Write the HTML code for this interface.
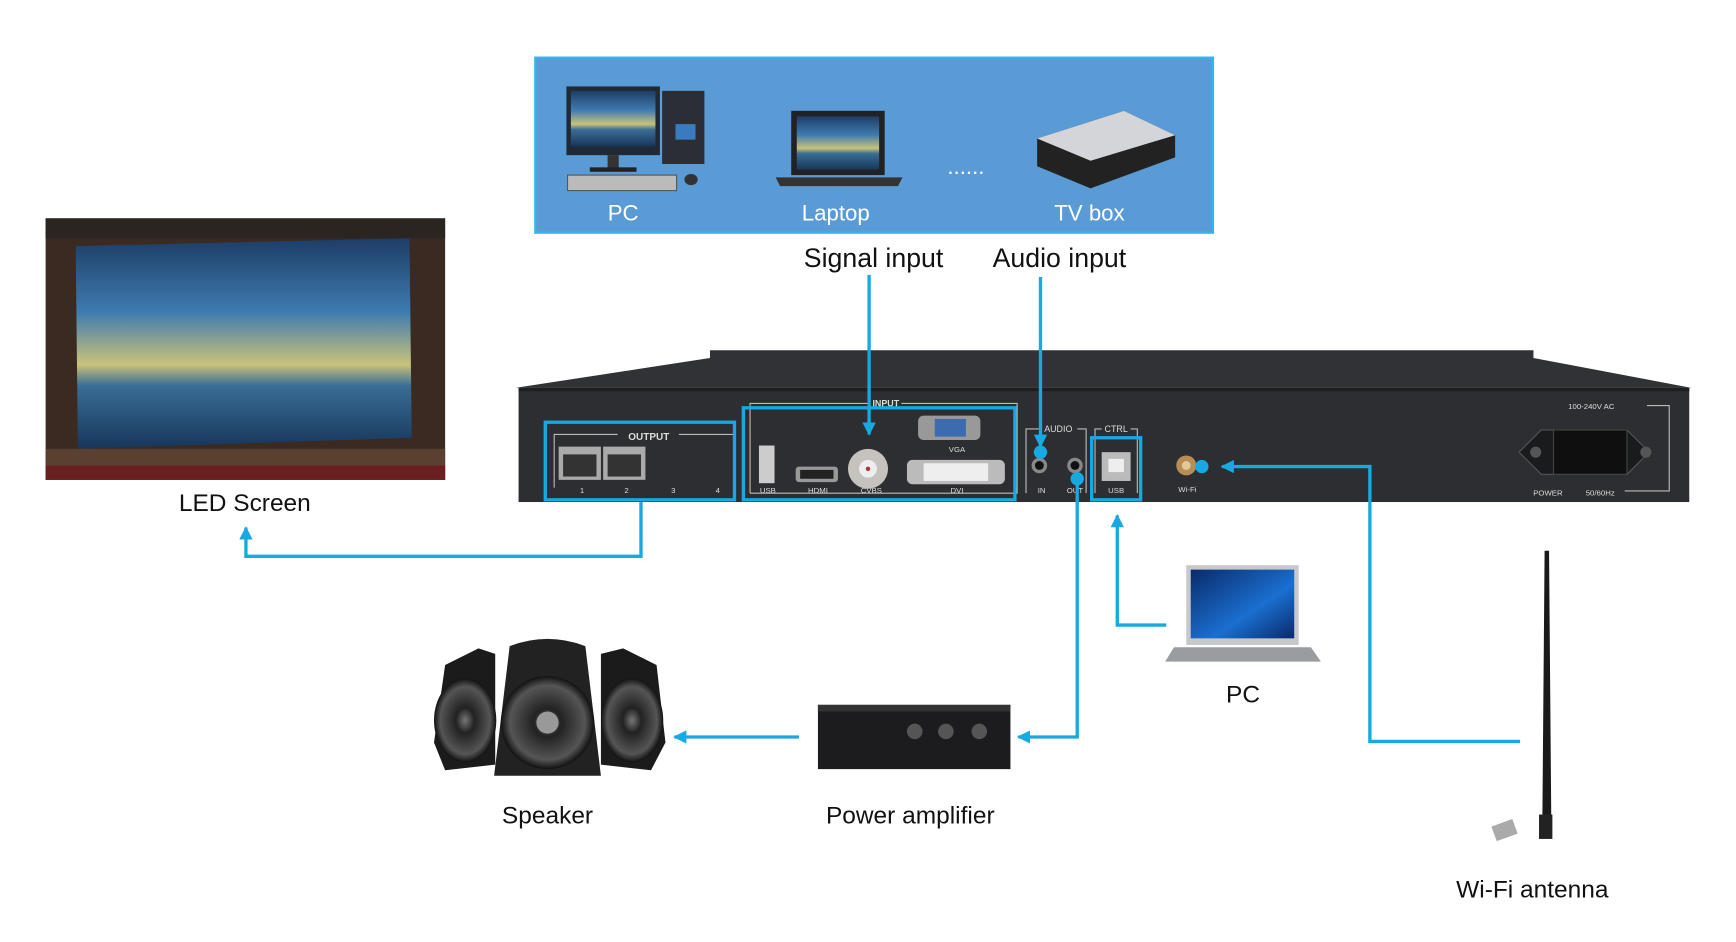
<!DOCTYPE html>
<html><head><meta charset="utf-8"><style>
html,body{margin:0;padding:0;background:#fff;}
svg{display:block;}
text{font-family:"Liberation Sans",sans-serif;}
</style></head><body>
<svg width="1736" height="942" viewBox="0 0 1560 850" preserveAspectRatio="none" xmlns="http://www.w3.org/2000/svg">
<defs>
<linearGradient id="sky" x1="0" y1="0" x2="0" y2="1">
<stop offset="0" stop-color="#1d3d66"/><stop offset="0.35" stop-color="#3f7bb0"/><stop offset="0.6" stop-color="#c9c27a"/><stop offset="0.7" stop-color="#3a6d95"/><stop offset="1" stop-color="#17365a"/></linearGradient>
<radialGradient id="spk" cx="0.5" cy="0.5" r="0.5"><stop offset="0" stop-color="#777"/><stop offset="0.3" stop-color="#222"/><stop offset="0.8" stop-color="#555"/><stop offset="1" stop-color="#111"/></radialGradient>
<linearGradient id="win" x1="0" y1="0" x2="1" y2="1"><stop offset="0" stop-color="#0a2a6a"/><stop offset="0.6" stop-color="#1a6fd0"/><stop offset="1" stop-color="#0a2a6a"/></linearGradient>
<marker id="ar" viewBox="0 0 10 10" refX="9" refY="5" markerWidth="4" markerHeight="4" orient="auto"><path d="M0,0 L10,5 L0,10 z" fill="#17a9e1"/></marker>
</defs>
<rect width="1560" height="850" fill="#fff"/>
<!-- top blue box -->
<rect x="481" y="52" width="609" height="158" fill="#5b9bd5" stroke="#35b6ea" stroke-width="2"/>
<!-- PC -->
<rect x="509" y="78" width="84" height="62" fill="#1f2a36"/><rect x="513" y="82" width="76" height="50" fill="url(#sky)"/>
<rect x="546" y="140" width="10" height="12" fill="#333"/><rect x="530" y="151" width="42" height="4" fill="#222"/>
<rect x="595" y="82" width="38" height="66" fill="#2b2f35"/><rect x="607" y="112" width="18" height="14" fill="#3a7bc0"/>
<rect x="510" y="158" width="98" height="14" fill="#bbb" stroke="#555"/><ellipse cx="621" cy="162" rx="6" ry="5" fill="#333"/>
<!-- Laptop -->
<rect x="711" y="100" width="84" height="58" fill="#222"/><rect x="716" y="105" width="74" height="48" fill="url(#sky)"/>
<path d="M697,160 L811,160 L807,168 L701,168 z" fill="#333"/>
<text x="868" y="157" font-size="20" fill="#fff" text-anchor="middle">......</text>
<!-- TV box -->
<path d="M932,125 L1010,100 L1056,122 L1056,142 L980,170 L932,150 z" fill="#222"/>
<path d="M932,125 L1010,100 L1056,122 L980,145 z" fill="#d3d5d8"/>
<text x="560" y="199" font-size="20" fill="#fff" text-anchor="middle">PC</text>
<text x="751" y="199" font-size="20" fill="#fff" text-anchor="middle">Laptop</text>
<text x="979" y="199" font-size="20" fill="#fff" text-anchor="middle">TV box</text>
<text x="785" y="241" font-size="24" fill="#111" text-anchor="middle">Signal input</text>
<text x="952" y="241" font-size="24" fill="#111" text-anchor="middle">Audio input</text>
<!-- LED screen photo -->
<rect x="41" y="197" width="359" height="236" fill="#3a2a22"/>
<rect x="41" y="197" width="359" height="18" fill="#2a2520"/>
<path d="M68,222 L368,215 L370,395 L70,405 z" fill="url(#sky)"/>
<rect x="41" y="405" width="359" height="28" fill="#5a4030"/>
<rect x="41" y="420" width="359" height="13" fill="#6b2020"/>
<text x="220" y="461" font-size="22" fill="#111" text-anchor="middle">LED Screen</text>
<!-- device -->
<path d="M638,316 L1378,316 L1378,323 L1520,350 L463,350 L638,323 z" fill="#303236"/>
<rect x="466" y="350" width="1052" height="103" fill="#2c2e31"/>
<rect x="466" y="350" width="1052" height="3" fill="#1e1f21"/>
<g fill="none" stroke="#bbb" stroke-width="1">
<path d="M498,440 L498,392 L555,392 M610,392 L660,392"/>
<path d="M674,445 L674,364 L780,364 M810,364 L914,364 L914,445 L674,445"/>
<path d="M922,445 L922,387 L935,387 M968,387 L976,387 L976,445 M984,445 L984,387 L990,387 M1016,387 L1022,387 L1022,445"/>
<path d="M1480,366 L1500,366 L1500,443 L1460,443"/>
</g>
<text x="583" y="397" font-size="9" fill="#ddd" text-anchor="middle" font-weight="bold">OUTPUT</text>
<text x="796" y="367" font-size="8" fill="#ddd" text-anchor="middle" font-weight="bold">INPUT</text>
<text x="951" y="390" font-size="8" fill="#ddd" text-anchor="middle">AUDIO</text>
<text x="1003" y="390" font-size="8" fill="#ddd" text-anchor="middle">CTRL</text>
<text x="1430" y="369" font-size="7" fill="#ddd" text-anchor="middle">100-240V AC</text>
<text x="1391" y="447" font-size="7" fill="#ddd" text-anchor="middle">POWER</text>
<text x="1438" y="447" font-size="7" fill="#ddd" text-anchor="middle">50/60Hz</text>
<text x="1067" y="444" font-size="7" fill="#ddd" text-anchor="middle">Wi-Fi</text>
<g font-size="7" fill="#ddd" text-anchor="middle"><text x="523" y="445">1</text><text x="563" y="445">2</text><text x="605" y="445">3</text><text x="645" y="445">4</text>
<text x="690" y="445">USB</text><text x="735" y="445">HDMI</text><text x="783" y="445">CVBS</text><text x="860" y="445">DVI</text><text x="860" y="408">VGA</text><text x="936" y="445">IN</text><text x="966" y="445">OUT</text><text x="1003" y="445">USB</text></g>
<rect x="502" y="403" width="38" height="30" fill="#aaa"/><rect x="506" y="410" width="30" height="20" fill="#333"/>
<rect x="542" y="403" width="38" height="30" fill="#aaa"/><rect x="546" y="410" width="30" height="20" fill="#333"/>
<rect x="682" y="402" width="14" height="34" fill="#ccc"/>
<rect x="715" y="421" width="38" height="14" rx="3" fill="#999"/><rect x="719" y="424" width="30" height="8" fill="#222"/>
<circle cx="780" cy="423" r="18" fill="#c6c2bd"/><circle cx="780" cy="423" r="8" fill="#eee"/><circle cx="780" cy="423" r="2" fill="#a33"/>
<rect x="825" y="375" width="56" height="22" rx="5" fill="#999"/><rect x="840" y="378" width="28" height="16" fill="#3c6bb0"/>
<rect x="815" y="415" width="88" height="22" rx="5" fill="#bbb"/><rect x="830" y="418" width="58" height="16" fill="#eee"/>
<circle cx="934" cy="420" r="7" fill="#888"/><circle cx="934" cy="420" r="4" fill="#111"/>
<circle cx="966" cy="420" r="7" fill="#888"/><circle cx="966" cy="420" r="4" fill="#111"/>
<rect x="990" y="408" width="26" height="26" fill="#bbb"/><rect x="996" y="414" width="14" height="12" fill="#eee"/>
<circle cx="1066" cy="420" r="9" fill="#b58d55"/><circle cx="1066" cy="420" r="4" fill="#e6c79a"/>
<path d="M1365,408 L1385,388 L1462,388 L1482,408 L1462,428 L1385,428 z" fill="#1a1b1d" stroke="#555"/>
<rect x="1396" y="388" width="66" height="40" fill="#0f0f10" stroke="#444"/>
<circle cx="1380" cy="408" r="5" fill="#555"/><circle cx="1479" cy="408" r="5" fill="#555"/>
<!-- highlight boxes -->
<g fill="none" stroke="#17a9e1" stroke-width="3">
<rect x="490" y="381" width="170" height="70"/>
<rect x="668" y="368" width="244" height="83"/>
<rect x="981" y="395" width="44" height="56"/>
</g>
<!-- connectors -->
<g fill="none" stroke="#17a9e1" stroke-width="3">
<path d="M781,248 L781,392" marker-end="url(#ar)"/>
<path d="M935,250 L935,403" marker-end="url(#ar)"/>
<path d="M576,453 L576,502 L221,502 L221,476" marker-end="url(#ar)"/>
<path d="M968,432 L968,665 L915,665" marker-end="url(#ar)"/>
<path d="M718,665 L606,665" marker-end="url(#ar)"/>
<path d="M1048,564 L1004,564 L1004,465" marker-end="url(#ar)"/>
<path d="M1366,669 L1231,669 L1231,421 L1098,421" marker-end="url(#ar)"/>
</g>
<circle cx="935" cy="408" r="6" fill="#17a9e1"/>
<circle cx="968" cy="432" r="6" fill="#17a9e1"/>
<circle cx="1080" cy="421" r="6" fill="#17a9e1"/>
<!-- speakers -->
<path d="M400,600 L430,585 L445,590 L445,690 L400,695 L390,670 z" fill="#1b1b1b"/>
<path d="M540,590 L560,585 L590,600 L598,670 L585,695 L540,690 z" fill="#1b1b1b"/>
<ellipse cx="418" cy="650" rx="28" ry="38" fill="url(#spk)"/>
<ellipse cx="568" cy="650" rx="28" ry="38" fill="url(#spk)"/>
<path d="M458,583 Q492,570 526,583 L540,700 L444,700 z" fill="#222"/>
<circle cx="492" cy="652" r="42" fill="url(#spk)"/><circle cx="492" cy="652" r="10" fill="#999"/>
<text x="492" y="743" font-size="22" fill="#111" text-anchor="middle">Speaker</text>
<!-- amplifier -->
<rect x="735" y="636" width="173" height="58" fill="#1c1c1e"/>
<rect x="735" y="636" width="173" height="6" fill="#333"/>
<circle cx="822" cy="660" r="7" fill="#555"/><circle cx="850" cy="660" r="7" fill="#555"/><circle cx="880" cy="660" r="7" fill="#555"/>
<text x="818" y="743" font-size="22" fill="#111" text-anchor="middle">Power amplifier</text>
<!-- PC laptop -->
<rect x="1066" y="510" width="101" height="72" fill="#c6c8cc"/><rect x="1070" y="514" width="93" height="62" fill="url(#win)"/>
<path d="M1055,584 L1178,584 L1187,597 L1047,597 z" fill="#9a9ca0"/>
<text x="1117" y="634" font-size="22" fill="#111" text-anchor="middle">PC</text>
<!-- antenna -->
<path d="M1388,497 L1392,497 L1394,740 L1386,740 z" fill="#1a1a1a"/>
<rect x="1383" y="735" width="12" height="22" fill="#222"/>
<rect x="1342" y="742" width="20" height="14" fill="#aaa" transform="rotate(-20 1352 749)"/>
<text x="1377" y="810" font-size="22" fill="#111" text-anchor="middle">Wi-Fi antenna</text>
</svg>
</body></html>
